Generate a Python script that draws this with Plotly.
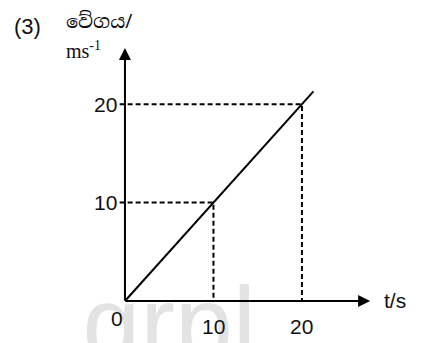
import plotly.graph_objects as go

# velocity-time data
time_s = [0, 21.3]
speed = [0, 21.3]
marked_t = [10, 20]
marked_v = [10, 20]
x_ticks = [10, 20]
y_ticks = [10, 20]
x_arrow_end = 27.7
y_arrow_end = 25.7

fig = go.Figure()

# faint watermark, drawn first so it stays behind everything
fig.add_trace(go.Scatter(x=[5.0], y=[2.0], mode='text', text=['grpl'],
                         textposition='bottom center',
                         textfont=dict(family='Liberation Sans', size=104, color='#e3e3e3'),
                         hoverinfo='skip'))

# dashed guide lines from the y axis to the line and down to the x axis
for t, v in zip(marked_t, marked_v):
    fig.add_trace(go.Scatter(x=[-0.6, t, t], y=[v, v, 0], mode='lines',
                             line=dict(color='black', width=2, dash='5px,3px'),
                             hoverinfo='skip'))

fig.add_trace(go.Scatter(x=time_s, y=speed, mode='lines',
                         line=dict(color='black', width=2), hoverinfo='skip'))

font_num = dict(family='Liberation Sans, Arial', size=21, color='#111')
ann = []
# axes with arrow heads
ann.append(dict(x=x_arrow_end, y=0, ax=-0.1, ay=0, xref='x', yref='y', axref='x', ayref='y',
                showarrow=True, arrowhead=2, arrowsize=1.2, arrowwidth=2, arrowcolor='black', text=''))
ann.append(dict(x=0, y=y_arrow_end, ax=0, ay=-0.1, xref='x', yref='y', axref='x', ayref='y',
                showarrow=True, arrowhead=2, arrowsize=1.2, arrowwidth=2, arrowcolor='black', text=''))
for v in y_ticks:
    ann.append(dict(x=-0.7, y=v, xref='x', yref='y', text=str(v), showarrow=False,
                    xanchor='right', yanchor='middle', font=font_num))
for t in x_ticks:
    ann.append(dict(x=t, y=-1.2, xref='x', yref='y', text=str(t), showarrow=False,
                    xanchor='center', yanchor='top', font=font_num))
ann.append(dict(x=-0.9, y=-0.4, xref='x', yref='y', text='0', showarrow=False,
                xanchor='center', yanchor='top', font=font_num))
ann.append(dict(x=29.1, y=0, xref='x', yref='y', text='t/s', showarrow=False,
                xanchor='left', yanchor='middle', font=font_num))
ann.append(dict(x=12, y=316, xref='paper', yref='paper', text='(3)', showarrow=False,
                xanchor='left', yanchor='middle', font=dict(family='Liberation Sans', size=22, color='#111')))
ann.append(dict(x=64, y=322, xref='paper', yref='paper', text='වේගය/', showarrow=False,
                xanchor='left', yanchor='middle', font=dict(family='Noto Sans, Noto Serif Sinhala', size=19, color='#111')))
ann.append(dict(x=64, y=293, xref='paper', yref='paper', text='ms<sup>-1</sup>', showarrow=False,
                xanchor='left', yanchor='middle', font=dict(family='Liberation Serif', size=20, color='#111')))

# convert pixel-based paper positions
for a in ann:
    if a['xref'] == 'paper':
        a['x'] = a['x'] / 424
        a['y'] = a['y'] / 343

fig.update_layout(
    width=424, height=343,
    margin=dict(l=0, r=0, t=0, b=0),
    paper_bgcolor='white', plot_bgcolor='white',
    showlegend=False,
    xaxis=dict(range=[-14.12, 33.79], visible=False),
    yaxis=dict(range=[-4.27, 30.59], visible=False),
    annotations=ann,
)

fig.write_html("out.html", config={'displayModeBar': False},
               post_script="document.body.style.margin='0';")
